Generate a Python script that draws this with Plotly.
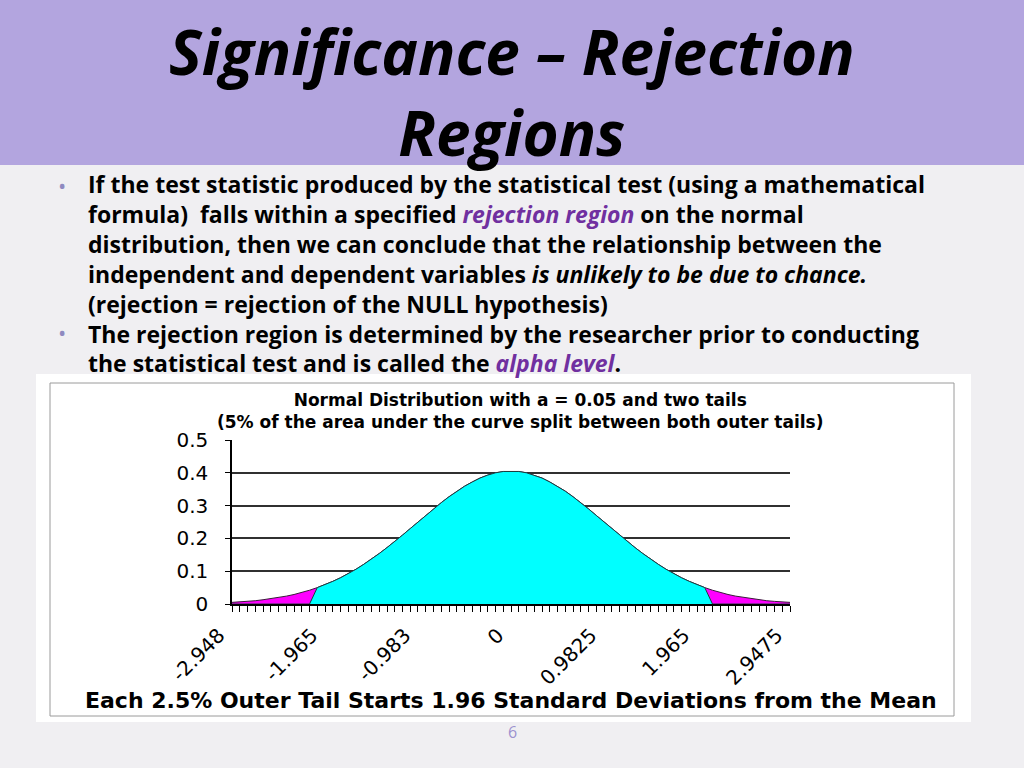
import plotly.graph_objects as go

# z values of the category axis (73 categories)
z_vals = [
    -2.948, -2.8656, -2.7838, -2.7019, -2.62, -2.5381, -2.4563, -2.3744, -2.2925, -2.2106,
    -2.1288, -2.0469, -1.965, -1.8831, -1.8013, -1.7194, -1.6375, -1.5556, -1.4738, -1.3919,
    -1.31, -1.2281, -1.1463, -1.0644, -0.983, -0.9006, -0.8188, -0.7369, -0.655, -0.5731,
    -0.4913, -0.4094, -0.3275, -0.2456, -0.1638, -0.0819, 0.0, 0.0819, 0.1638, 0.2456,
    0.3275, 0.4094, 0.4913, 0.5731, 0.655, 0.7369, 0.8188, 0.9006, 0.9825, 1.0644,
    1.1463, 1.2281, 1.31, 1.3919, 1.4738, 1.5556, 1.6375, 1.7194, 1.8013, 1.8831,
    1.965, 2.0469, 2.1288, 2.2106, 2.2925, 2.3744, 2.4563, 2.5381, 2.62, 2.7019,
    2.7838, 2.8656, 2.9475,
]

# full curve (magenta series, drawn behind)
curve_vals = [
    0.005, 0.006, 0.008, 0.010, 0.013, 0.016, 0.020, 0.024, 0.029, 0.035,
    0.042, 0.050, 0.059, 0.069, 0.080, 0.092, 0.106, 0.121, 0.137, 0.154,
    0.172, 0.190, 0.210, 0.230, 0.250, 0.270, 0.290, 0.309, 0.327, 0.344,
    0.359, 0.372, 0.384, 0.393, 0.400, 0.404, 0.405, 0.404, 0.400, 0.393,
    0.384, 0.372, 0.359, 0.344, 0.327, 0.309, 0.290, 0.270, 0.250, 0.230,
    0.210, 0.190, 0.172, 0.154, 0.137, 0.121, 0.106, 0.092, 0.080, 0.069,
    0.059, 0.050, 0.042, 0.035, 0.029, 0.024, 0.020, 0.016, 0.013, 0.010,
    0.008, 0.006, 0.005,
]

# middle region (cyan series, zero in the two rejection tails)
middle_vals = [
    0, 0, 0, 0, 0, 0, 0, 0, 0, 0,
    0, 0.050, 0.059, 0.069, 0.080, 0.092, 0.106, 0.121, 0.137, 0.154,
    0.172, 0.190, 0.210, 0.230, 0.250, 0.270, 0.290, 0.309, 0.327, 0.344,
    0.359, 0.372, 0.384, 0.393, 0.400, 0.404, 0.405, 0.404, 0.400, 0.393,
    0.384, 0.372, 0.359, 0.344, 0.327, 0.309, 0.290, 0.270, 0.250, 0.230,
    0.210, 0.190, 0.172, 0.154, 0.137, 0.121, 0.106, 0.092, 0.080, 0.069,
    0.059, 0.050, 0, 0, 0, 0, 0, 0, 0, 0,
    0, 0, 0,
]

x_tick_vals = [-2.948, -1.965, -0.983, 0.0, 0.9825, 1.965, 2.9475]
x_tick_text = ["-2.948", "-1.965", "-0.983", "0", "0.9825", "1.965", "2.9475"]
y_tick_vals = [0, 0.1, 0.2, 0.3, 0.4, 0.5]
y_tick_text = ["0", "0.1", "0.2", "0.3", "0.4", "0.5"]
y_grid_vals = [0.1, 0.2, 0.3, 0.4]

W, H = 1024, 768
PURPLE = "#7030a0"
SLIDE_FONT = "Open Sans"
CHART_FONT = "DejaVu Sans"


def px(x):
    return x / W


def py(y):
    return 1 - y / H


fig = go.Figure()

fig.add_trace(go.Scatter(
    x=z_vals, y=curve_vals, mode="lines", fill="tozeroy",
    fillcolor="#ff00ff", line=dict(color="#3a1a3a", width=1),
    hoverinfo="skip", showlegend=False,
))
fig.add_trace(go.Scatter(
    x=z_vals, y=middle_vals, mode="lines", fill="tozeroy",
    fillcolor="#00ffff", line=dict(color="#1d3d3d", width=1),
    hoverinfo="skip", showlegend=False,
))

shapes = [
    # purple title band
    dict(type="rect", xref="paper", yref="paper", x0=0, x1=1, y0=py(165), y1=1,
         fillcolor="#b3a5df", line=dict(width=0), layer="below"),
    # white picture box
    dict(type="rect", xref="paper", yref="paper", x0=px(36), x1=px(971),
         y0=py(722), y1=py(374), fillcolor="white", line=dict(width=0), layer="below"),
    dict(type="rect", xref="paper", yref="paper", x0=px(50), x1=px(954),
         y0=py(716), y1=py(383), fillcolor="rgba(0,0,0,0)",
         line=dict(color="#9a9a9a", width=1), layer="below"),
]

body_text = "<br>".join([
    "If the test statistic produced by the statistical test (using a mathematical",
    "formula)\u00a0 falls within a specified <i><span style='color:%s'>rejection region</span></i> on the normal" % PURPLE,
    "distribution, then we can conclude that the relationship between the",
    "independent and dependent variables <i>is unlikely to be due to chance.</i>",
    "(rejection = rejection of the NULL hypothesis)",
    "The rejection region is determined by the researcher prior to conducting",
    "the statistical test and is called the <i><span style='color:%s'>alpha level</span></i>." % PURPLE,
])

annotations = [
    dict(text="<b><i>Significance – Rejection<br>Regions</i></b>", x=0.5, y=py(92),
         font=dict(family=SLIDE_FONT, size=62, color="black")),
    dict(text="<b>%s</b>" % body_text, x=px(86), y=py(273), xanchor="left", align="left",
         font=dict(family=SLIDE_FONT, size=23, color="black")),
    dict(text="•", x=px(62), y=py(185),
         font=dict(family=SLIDE_FONT, size=22, color="#8f8ac0")),
    dict(text="•", x=px(62), y=py(332),
         font=dict(family=SLIDE_FONT, size=22, color="#8f8ac0")),
    dict(text="<b>Normal Distribution with a = 0.05 and two tails<br>"
              "(5% of the area under the curve split between both outer tails)</b>",
         x=px(520), y=py(411), font=dict(family=CHART_FONT, size=17, color="black")),
    dict(text="<b>Each 2.5% Outer Tail Starts 1.96 Standard Deviations from the Mean</b>",
         x=px(511), y=py(700), font=dict(family=CHART_FONT, size=22, color="black")),
    dict(text="6", x=px(512), y=py(732), font=dict(family=SLIDE_FONT, size=16, color="#9c92cf")),
]

for a in annotations:
    a.setdefault("xref", "paper")
    a.setdefault("yref", "paper")
    a.setdefault("showarrow", False)
    a.setdefault("xanchor", "center")
    a.setdefault("yanchor", "middle")

fig.update_layout(
    width=W, height=H, autosize=False,
    margin=dict(l=0, r=0, t=0, b=0, pad=0),
    paper_bgcolor="#f0eff2",
    plot_bgcolor="#c0c0c0",
    shapes=shapes,
    annotations=annotations,
    showlegend=False,
    xaxis=dict(
        domain=[px(232), px(790)], range=[-2.948, 2.9475], automargin=False,
        tickmode="array", tickvals=x_tick_vals, ticktext=x_tick_text,
        tickangle=-45, ticks="outside", ticklen=6, tickcolor="black",
        ticklabelshift=-13, ticklabelstandoff=4,
        tickfont=dict(family=CHART_FONT, size=20, color="black"),
        minor=dict(tickvals=z_vals, ticks="outside", ticklen=6, tickcolor="black", showgrid=False),
        showline=True, linecolor="black", linewidth=1.5,
        showgrid=False, zeroline=False,
    ),
    yaxis=dict(
        domain=[py(604), py(440)], range=[0, 0.5], automargin=False,
        tickmode="array", tickvals=y_tick_vals, ticktext=y_tick_text,
        ticks="outside", ticklen=5, tickcolor="black", ticklabelstandoff=13,
        tickfont=dict(family=CHART_FONT, size=20, color="black"),
        showline=True, linecolor="black", linewidth=1.5,
        showgrid=False, zeroline=False,
        minor=dict(tickvals=y_grid_vals, ticks="", showgrid=True,
                   gridcolor="#303030", gridwidth=1.5),
    ),
)

fig.write_html("out.html", config={"displayModeBar": False},
               post_script="document.body.style.margin='0px';")
